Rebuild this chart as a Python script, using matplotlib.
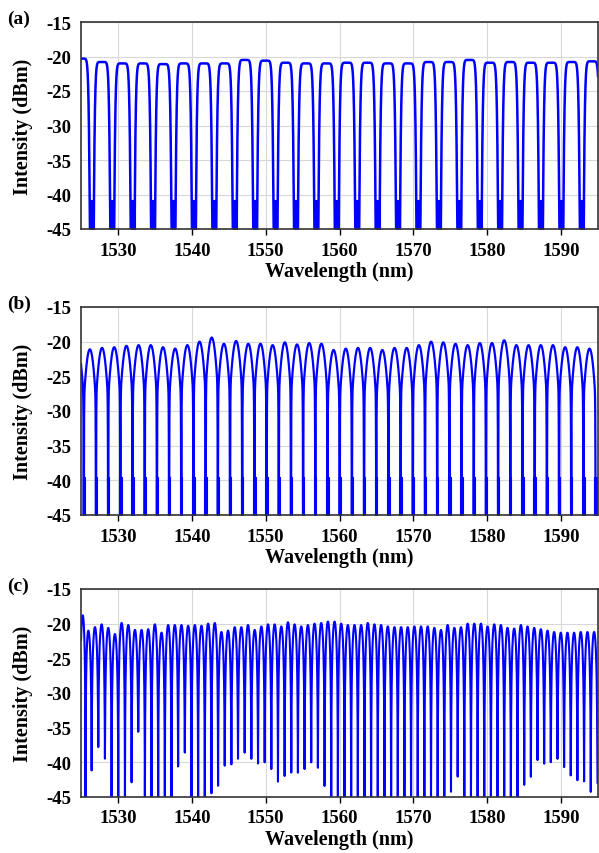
import numpy as np
import matplotlib
matplotlib.use('Agg')
import matplotlib.pyplot as plt

plt.rcParams['font.family'] = ['Liberation Serif', 'DejaVu Serif']
plt.rcParams['font.weight'] = 'bold'
plt.rcParams['axes.unicode_minus'] = False

# ---- data (peak centres in nm, peak tops / dip floors in dBm) ----
# (a) flat-top comb, ~2.76 nm spacing
centers_a = [1525.08, 1527.84, 1530.61, 1533.37, 1536.14, 1538.90, 1541.66, 1544.43,
             1547.19, 1549.96, 1552.72, 1555.48, 1558.25, 1561.01, 1563.78, 1566.54,
             1569.30, 1572.07, 1574.83, 1577.60, 1580.36, 1583.12, 1585.89, 1588.65,
             1591.42, 1594.18]
tops_a = [-20.3, -20.8, -21.0, -21.0, -21.1, -21.0, -21.0, -21.0, -20.5, -20.6, -20.9,
          -21.0, -21.0, -20.9, -20.9, -21.0, -21.0, -20.8, -20.8, -20.5, -20.9, -20.8,
          -20.9, -20.9, -20.8, -20.7]

# (b) ~1.65 nm spacing
centers_b = [1524.55, 1526.20, 1527.85, 1529.50, 1531.15, 1532.80, 1534.45, 1536.10,
             1537.75, 1539.40, 1541.05, 1542.70, 1544.35, 1546.00, 1547.65, 1549.30,
             1550.95, 1552.60, 1554.25, 1555.90, 1557.55, 1559.20, 1560.85, 1562.50,
             1564.15, 1565.80, 1567.45, 1569.10, 1570.75, 1572.40, 1574.05, 1575.70,
             1577.35, 1579.00, 1580.65, 1582.30, 1583.95, 1585.60, 1587.25, 1588.90,
             1590.55, 1592.20, 1593.85]
tops_b = [-21.0, -21.1, -20.9, -20.8, -20.6, -20.5, -20.5, -20.8, -21.0, -20.5, -20.0,
          -19.4, -20.3, -19.9, -20.3, -20.3, -20.5, -20.1, -20.4, -20.2, -20.3, -21.2,
          -21.0, -20.9, -20.9, -21.2, -20.9, -20.9, -20.5, -20.0, -20.1, -20.3, -20.5,
          -20.2, -20.2, -19.8, -20.5, -20.5, -20.5, -20.5, -20.8, -20.8, -21.0]

# (c) ~0.90 nm spacing, dip floors differ from dip to dip (-50 = below the frame)
centers_c = [1525.23, 1525.99, 1526.89, 1527.79, 1528.69, 1529.59, 1530.50, 1531.40,
             1532.30, 1533.20, 1534.10, 1535.00, 1535.90, 1536.80, 1537.70, 1538.60,
             1539.51, 1540.41, 1541.31, 1542.21, 1543.11, 1544.01, 1544.91, 1545.81,
             1546.71, 1547.61, 1548.52, 1549.42, 1550.32, 1551.22, 1552.12, 1553.02,
             1553.92, 1554.82, 1555.72, 1556.62, 1557.53, 1558.43, 1559.33, 1560.23,
             1561.13, 1562.03, 1562.93, 1563.83, 1564.73, 1565.63, 1566.54, 1567.44,
             1568.34, 1569.24, 1570.14, 1571.04, 1571.94, 1572.84, 1573.74, 1574.64,
             1575.55, 1576.45, 1577.35, 1578.25, 1579.15, 1580.05, 1580.95, 1581.85,
             1582.75, 1583.65, 1584.56, 1585.46, 1586.36, 1587.26, 1588.16, 1589.06,
             1589.96, 1590.86, 1591.76, 1592.66, 1593.57, 1594.47]
tops_c = [-18.8, -21.0, -20.5, -20.1, -20.6, -21.5, -19.9, -20.2, -20.9, -20.9, -20.8,
          -20.1, -21.3, -20.2, -20.2, -20.2, -20.3, -20.2, -20.3, -20.0, -19.9, -21.2,
          -21.0, -20.5, -20.5, -20.2, -20.9, -20.4, -20.1, -20.1, -20.4, -19.8, -20.1,
          -20.4, -20.2, -20.0, -19.9, -19.7, -19.7, -20.0, -20.2, -20.2, -20.2, -19.9,
          -20.1, -20.2, -20.4, -20.5, -20.5, -20.5, -20.4, -20.4, -20.4, -20.6, -20.9,
          -20.2, -20.6, -20.5, -20.0, -20.0, -20.0, -20.4, -20.1, -20.2, -20.6, -20.7,
          -20.2, -20.4, -20.6, -20.8, -21.0, -21.2, -21.3, -21.3, -21.3, -21.2, -21.2,
          -21.2]
dips_c = [-50, -41.2, -37.8, -39.5, -50, -50, -50, -42.9, -35.6, -50, -50, -50, -50,
          -50, -40.6, -38.6, -50, -50, -50, -44.5, -43.4, -40.5, -40.3, -39.5, -38.6,
          -39.5, -40.2, -40.0, -41.0, -42.8, -42.0, -41.5, -41.5, -41.0, -40.0, -40.8,
          -43.5, -50, -50, -50, -50, -50, -50, -50, -50, -50, -50, -50, -50, -50, -50,
          -50, -50, -50, -50, -44.3, -42.1, -50, -50, -50, -50, -50, -50, -50, -50,
          -50, -43.3, -42.1, -39.7, -40.2, -40.0, -39.5, -40.7, -41.9, -42.6, -42.8,
          -44.3, -43.0]

# noisy floor at the bottom of each dip in (a) and (b)
noise_top_a = -40.8
noise_top_b = -39.5


def shape_a(u):
    return np.exp(-(u / 0.65) ** 8)


def shape_b(u):
    return np.exp(-(u / 0.76) ** 2 - (u / 0.95) ** 40)


def shape_c(u):
    return np.cos(np.pi * u / 2) ** 1.5


def comb(x, centers, tops, dips, shape):
    c = np.asarray(centers, float)
    h = np.asarray(tops, float)
    d = np.asarray(dips, float)
    # one extra lobe each side so the frame edges are filled
    c = np.r_[2 * c[0] - c[1], c, 2 * c[-1] - c[-2]]
    h = np.r_[h[0], h, h[-1]]
    d = np.r_[d[0], d, d[-1]]
    mids = (c[:-1] + c[1:]) / 2
    i = np.clip(np.searchsorted(mids, x), 1, len(c) - 2)
    right = x >= c[i]
    half = np.where(right, mids[np.minimum(i, len(mids) - 1)] - c[i], c[i] - mids[i - 1])
    depth = np.where(right, d[np.minimum(i, len(d) - 1)], d[i - 1])
    u = np.clip(np.abs(x - c[i]) / half, 0, 1)
    eps = 10 ** ((depth - h[i]) / 10)
    return h[i] + 10 * np.log10(shape(u) * (1 - eps) + eps), mids


x = np.linspace(1524.5, 1595.5, 60000)
y_a, mids_a = comb(x, centers_a, tops_a, [-52] * (len(centers_a) - 1), shape_a)
y_b, mids_b = comb(x, centers_b, tops_b, [-52] * (len(centers_b) - 1), shape_b)
y_c, mids_c = comb(x, centers_c, tops_c, dips_c, shape_c)

fig = plt.figure(figsize=(5.99, 8.54), dpi=100)
W, H = 599, 854
blue = '#0000ff'

panels = [
    ('(a)', 23, 230, y_a, mids_a, noise_top_a, 0.26, 1.8),
    ('(b)', 308, 516, y_b, mids_b, noise_top_b, 0.16, 1.6),
    ('(c)', 590, 798, y_c, None, None, 0, 1.5),
]

for label, top_px, bot_px, y, mids, ntop, nw, lw in panels:
    ax = fig.add_axes([81 / W, 1 - bot_px / H, (598 - 81) / W, (bot_px - top_px) / H])
    ax.plot(x, y, color=blue, lw=lw)
    if mids is not None:
        for m in mids:
            ax.fill_between([m - nw, m + nw], -50, ntop, color=blue, lw=0.8)
    ax.set_xlim(1525, 1595)
    ax.set_ylim(-45, -15)
    ax.set_xticks([1530, 1540, 1550, 1560, 1570, 1580, 1590])
    ax.set_yticks([-45, -40, -35, -30, -25, -20, -15])
    ax.grid(True, color='#d8d8d8', lw=0.8)
    ax.set_axisbelow(True)
    ax.tick_params(axis='x', direction='out', length=4, width=1, labelsize=13.5, pad=5)
    ax.tick_params(axis='y', length=0, labelsize=13.5, pad=7)
    for s in ax.spines.values():
        s.set_color('#333333')
        s.set_linewidth(1.2)
    ax.set_xlabel('Wavelength (nm)', fontsize=14.5, fontweight='bold')
    ax.set_ylabel('Intensity (dBm)', fontsize=14.5, fontweight='bold')
    ax.xaxis.set_label_coords(0.5, -0.155)
    ax.yaxis.set_label_coords(-0.093, 0.5)
    fig.text(7 / W, 1 - (top_px - 4) / H, label, fontsize=14, fontweight='bold',
             ha='left', va='center')

fig.savefig('out.png', dpi=100)
